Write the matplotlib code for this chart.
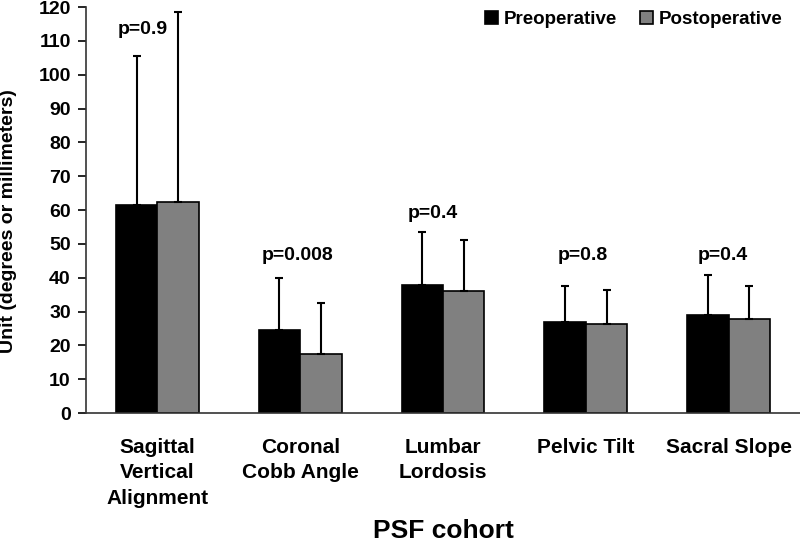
import matplotlib.pyplot as plt
import numpy as np

plt.rcParams['font.family'] = ['Liberation Sans', 'DejaVu Sans']
plt.rcParams['font.weight'] = 'bold'

# data
categories = ['Sagittal\nVertical\nAlignment', 'Coronal\nCobb Angle',
              'Lumbar\nLordosis', 'Pelvic Tilt', 'Sacral Slope']
pre_mean = [61.5, 24.6, 37.8, 26.8, 29.1]
pre_err = [44.0, 15.3, 15.7, 10.7, 11.7]
post_mean = [62.5, 17.4, 36.1, 26.3, 27.8]
post_err = [56.0, 15.0, 14.9, 10.1, 9.7]
p_labels = ['p=0.9', 'p=0.008', 'p=0.4', 'p=0.8', 'p=0.4']
p_x = [-0.1, -0.02, -0.07, -0.02, -0.04]
p_y = [113.3, 46.7, 59.1, 46.7, 46.7]

fig = plt.figure(figsize=(8, 5.43), dpi=100)
ax = fig.add_axes([0.1075, 0.2394, 0.8925, 0.7476])

x = np.arange(len(categories))
w = 0.29
err_kw = dict(ecolor='black', elinewidth=1.5, capsize=3, capthick=1.5)
ax.bar(x - w / 2, pre_mean, w, yerr=[np.zeros(5), pre_err], color='black',
       edgecolor='black', linewidth=1.2, label='Preoperative', error_kw=err_kw)
ax.bar(x + w / 2, post_mean, w, yerr=[np.zeros(5), post_err], color='#808080',
       edgecolor='black', linewidth=1.2, label='Postoperative', error_kw=err_kw)

for xi, dx, lab, yy in zip(x, p_x, p_labels, p_y):
    ax.text(xi + dx, yy, lab, ha='center', va='center', fontsize=14, fontweight='bold')

ax.set_xlim(-0.5, 4.5)
ax.set_ylim(0, 120)
ax.set_yticks(np.arange(0, 121, 10))
ax.set_xticks(x)
ax.set_xticklabels(categories, fontsize=15, fontweight='bold', linespacing=1.42)
ax.tick_params(axis='x', length=0, pad=18)
ax.tick_params(axis='y', labelsize=14, length=6, width=1.2, direction='out', pad=5)
for s in ['top', 'right']:
    ax.spines[s].set_visible(False)
for s in ['left', 'bottom']:
    ax.spines[s].set_linewidth(1.2)
    ax.spines[s].set_color('#333333')

ax.set_ylabel('Unit (degrees or millimeters)', fontsize=14, fontweight='bold')
ax.yaxis.set_label_coords(-0.096, 0.473)
ax.set_xlabel('PSF cohort', fontsize=19, fontweight='bold', labelpad=8)

fig.legend(loc='upper right', ncol=2, frameon=False, fontsize=13.5,
           handlelength=0.7, handleheight=0.7, columnspacing=1.2,
           handletextpad=0.3, borderpad=0, borderaxespad=0,
           bbox_to_anchor=(782 / 800, 1 - 11 / 543))

fig.savefig('out.png', dpi=100)
